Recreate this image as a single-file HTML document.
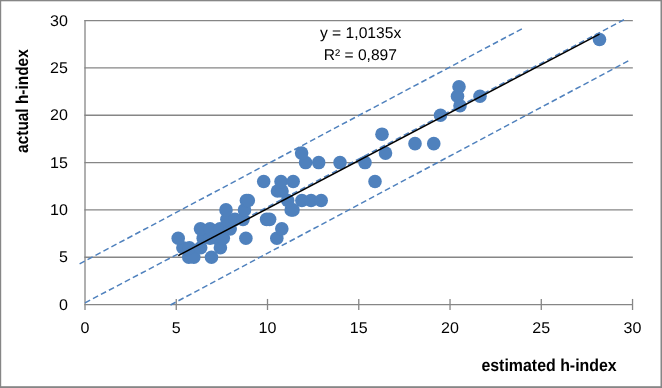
<!DOCTYPE html>
<html><head><meta charset="utf-8"><title>chart</title>
<style>html,body{margin:0;padding:0;background:#fff}svg{display:block}text{font-family:"Liberation Sans",sans-serif;fill:#000;text-rendering:geometricPrecision}</style></head><body>
<svg width="662" height="388" viewBox="0 0 662 388">
<rect x="0" y="0" width="662" height="388" fill="#fff"/>
<rect x="0" y="0" width="662" height="1.3" fill="#868686"/>
<rect x="0" y="0" width="1.2" height="388" fill="#868686"/>
<rect x="660.5" y="0" width="1.5" height="388" fill="#868686"/>
<rect x="0" y="386.2" width="662" height="1.8" fill="#868686"/>
<line x1="84.4" y1="257.24" x2="632.8399999999999" y2="257.24" stroke="#868686" stroke-width="1.3"/>
<line x1="84.4" y1="209.91" x2="632.8399999999999" y2="209.91" stroke="#868686" stroke-width="1.3"/>
<line x1="84.4" y1="162.57" x2="632.8399999999999" y2="162.57" stroke="#868686" stroke-width="1.3"/>
<line x1="84.4" y1="115.24" x2="632.8399999999999" y2="115.24" stroke="#868686" stroke-width="1.3"/>
<line x1="84.4" y1="67.91" x2="632.8399999999999" y2="67.91" stroke="#868686" stroke-width="1.3"/>
<line x1="84.4" y1="20.58" x2="632.8399999999999" y2="20.58" stroke="#868686" stroke-width="1.3"/>
<rect x="316" y="23" width="90" height="41" fill="#fff"/>
<line x1="85.0" y1="19.93" x2="85.0" y2="310.0" stroke="#868686" stroke-width="1.3"/>
<line x1="84.4" y1="304.57" x2="632.54" y2="304.57" stroke="#868686" stroke-width="1.2"/>
<line x1="176.26" y1="298.95" x2="176.26" y2="310.0" stroke="#868686" stroke-width="1.3"/>
<line x1="267.51" y1="298.95" x2="267.51" y2="310.0" stroke="#868686" stroke-width="1.3"/>
<line x1="358.77" y1="298.95" x2="358.77" y2="310.0" stroke="#868686" stroke-width="1.3"/>
<line x1="450.03" y1="298.95" x2="450.03" y2="310.0" stroke="#868686" stroke-width="1.3"/>
<line x1="541.28" y1="298.95" x2="541.28" y2="310.0" stroke="#868686" stroke-width="1.3"/>
<line x1="632.54" y1="298.95" x2="632.54" y2="310.0" stroke="#868686" stroke-width="1.3"/>
<line x1="79.6" y1="263.8" x2="522" y2="28.75" stroke="#4F81BD" stroke-width="1.5" stroke-dasharray="5.8 3.2"/>
<line x1="85" y1="302.8" x2="624.5" y2="19.5" stroke="#4F81BD" stroke-width="1.5" stroke-dasharray="5.8 3.2"/>
<line x1="170.5" y1="305" x2="629" y2="60.5" stroke="#4F81BD" stroke-width="1.5" stroke-dasharray="5.8 3.2"/>
<circle cx="188.8" cy="257.24" r="6.8" fill="#4F81BD"/>
<circle cx="193.8" cy="257.24" r="6.8" fill="#4F81BD"/>
<circle cx="211.5" cy="257.24" r="6.8" fill="#4F81BD"/>
<circle cx="182.9" cy="247.77" r="6.8" fill="#4F81BD"/>
<circle cx="189.4" cy="247.77" r="6.8" fill="#4F81BD"/>
<circle cx="200.7" cy="247.77" r="6.8" fill="#4F81BD"/>
<circle cx="220.4" cy="247.77" r="6.8" fill="#4F81BD"/>
<circle cx="178.2" cy="238.31" r="6.8" fill="#4F81BD"/>
<circle cx="203.2" cy="238.31" r="6.8" fill="#4F81BD"/>
<circle cx="210" cy="238.31" r="6.8" fill="#4F81BD"/>
<circle cx="216.5" cy="238.31" r="6.8" fill="#4F81BD"/>
<circle cx="223.3" cy="238.31" r="6.8" fill="#4F81BD"/>
<circle cx="245.9" cy="238.31" r="6.8" fill="#4F81BD"/>
<circle cx="276.8" cy="238.31" r="6.8" fill="#4F81BD"/>
<circle cx="200.5" cy="228.84" r="6.8" fill="#4F81BD"/>
<circle cx="210" cy="228.84" r="6.8" fill="#4F81BD"/>
<circle cx="220" cy="228.84" r="6.8" fill="#4F81BD"/>
<circle cx="230.2" cy="228.84" r="6.8" fill="#4F81BD"/>
<circle cx="281.8" cy="228.84" r="6.8" fill="#4F81BD"/>
<circle cx="226.9" cy="219.37" r="6.8" fill="#4F81BD"/>
<circle cx="235" cy="219.37" r="6.8" fill="#4F81BD"/>
<circle cx="243" cy="219.37" r="6.8" fill="#4F81BD"/>
<circle cx="266.6" cy="219.37" r="6.8" fill="#4F81BD"/>
<circle cx="269.6" cy="219.37" r="6.8" fill="#4F81BD"/>
<circle cx="226.0" cy="209.91" r="6.8" fill="#4F81BD"/>
<circle cx="244.5" cy="209.91" r="6.8" fill="#4F81BD"/>
<circle cx="291.2" cy="209.91" r="6.8" fill="#4F81BD"/>
<circle cx="293" cy="209.91" r="6.8" fill="#4F81BD"/>
<circle cx="246.4" cy="200.44" r="6.8" fill="#4F81BD"/>
<circle cx="248.3" cy="200.44" r="6.8" fill="#4F81BD"/>
<circle cx="287.7" cy="200.44" r="6.8" fill="#4F81BD"/>
<circle cx="301.9" cy="200.44" r="6.8" fill="#4F81BD"/>
<circle cx="311.1" cy="200.44" r="6.8" fill="#4F81BD"/>
<circle cx="321.2" cy="200.44" r="6.8" fill="#4F81BD"/>
<circle cx="277.5" cy="190.97" r="6.8" fill="#4F81BD"/>
<circle cx="282" cy="190.97" r="6.8" fill="#4F81BD"/>
<circle cx="263.7" cy="181.51" r="6.8" fill="#4F81BD"/>
<circle cx="281" cy="181.51" r="6.8" fill="#4F81BD"/>
<circle cx="293.2" cy="181.51" r="6.8" fill="#4F81BD"/>
<circle cx="375" cy="181.51" r="6.8" fill="#4F81BD"/>
<circle cx="305.6" cy="162.57" r="6.8" fill="#4F81BD"/>
<circle cx="318.7" cy="162.57" r="6.8" fill="#4F81BD"/>
<circle cx="340" cy="162.57" r="6.8" fill="#4F81BD"/>
<circle cx="365" cy="162.57" r="6.8" fill="#4F81BD"/>
<circle cx="301.6" cy="153.11" r="6.8" fill="#4F81BD"/>
<circle cx="385.5" cy="153.11" r="6.8" fill="#4F81BD"/>
<circle cx="415" cy="143.64" r="6.8" fill="#4F81BD"/>
<circle cx="433.75" cy="143.64" r="6.8" fill="#4F81BD"/>
<circle cx="382" cy="134.18" r="6.8" fill="#4F81BD"/>
<circle cx="440.5" cy="115.24" r="6.8" fill="#4F81BD"/>
<circle cx="460" cy="105.78" r="6.8" fill="#4F81BD"/>
<circle cx="457.5" cy="96.31" r="6.8" fill="#4F81BD"/>
<circle cx="480" cy="96.31" r="6.8" fill="#4F81BD"/>
<circle cx="459" cy="86.84" r="6.8" fill="#4F81BD"/>
<circle cx="599.5" cy="39.51" r="6.8" fill="#4F81BD"/>
<line x1="178.2" y1="255.58" x2="599.5" y2="34.11" stroke="#000" stroke-width="1.55"/>
<text transform="translate(67.9,309.82) scale(1.035,1)" font-size="15.5" text-anchor="end">0</text>
<text transform="translate(67.9,262.49) scale(1.035,1)" font-size="15.5" text-anchor="end">5</text>
<text transform="translate(67.9,215.16) scale(1.035,1)" font-size="15.5" text-anchor="end">10</text>
<text transform="translate(67.9,167.82) scale(1.035,1)" font-size="15.5" text-anchor="end">15</text>
<text transform="translate(67.9,120.49) scale(1.035,1)" font-size="15.5" text-anchor="end">20</text>
<text transform="translate(67.9,73.16) scale(1.035,1)" font-size="15.5" text-anchor="end">25</text>
<text transform="translate(67.9,25.83) scale(1.035,1)" font-size="15.5" text-anchor="end">30</text>
<text transform="translate(85.00,333.25) scale(1.035,1)" font-size="15.5" text-anchor="middle">0</text>
<text transform="translate(176.26,333.25) scale(1.035,1)" font-size="15.5" text-anchor="middle">5</text>
<text transform="translate(267.51,333.25) scale(1.035,1)" font-size="15.5" text-anchor="middle">10</text>
<text transform="translate(358.77,333.25) scale(1.035,1)" font-size="15.5" text-anchor="middle">15</text>
<text transform="translate(450.03,333.25) scale(1.035,1)" font-size="15.5" text-anchor="middle">20</text>
<text transform="translate(541.28,333.25) scale(1.035,1)" font-size="15.5" text-anchor="middle">25</text>
<text transform="translate(632.54,333.25) scale(1.035,1)" font-size="15.5" text-anchor="middle">30</text>
<text transform="translate(360.6,38.4) scale(1.011,1)" font-size="15.5" text-anchor="middle">y = 1,0135x</text>
<text transform="translate(360.3,59.8) scale(1.006,1)" font-size="15.5" text-anchor="middle">R² = 0,897</text>
<text transform="translate(481.4,370.9) scale(0.921,1)" font-size="17.3" font-weight="bold">estimated h-index</text>
<text transform="translate(28.1,152.9) rotate(-90) scale(0.892,1)" font-size="17.3" font-weight="bold">actual h-index</text>
</svg></body></html>
